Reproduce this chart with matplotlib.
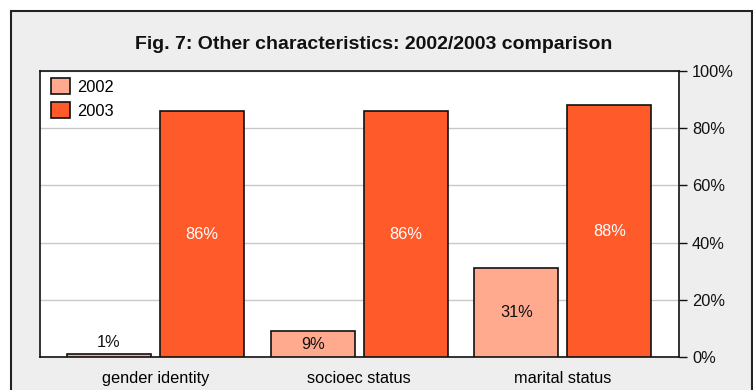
import numpy as np
import matplotlib.pyplot as plt
from matplotlib.patches import Rectangle
from matplotlib.ticker import FuncFormatter

plt.rcParams['font.family'] = ['Liberation Sans', 'DejaVu Sans']

categories = ['gender identity', 'socioec status', 'marital status']
years = ['2002', '2003']
pct_2002 = [1, 9, 31]
pct_2003 = [86, 86, 88]
y_ticks = [0, 20, 40, 60, 80, 100]

col_2002 = '#FFAA8F'
col_2003 = '#FF5A2A'

W, H = 753, 390
fig = plt.figure(figsize=(W / 100, H / 100), dpi=100)
fig.patch.set_facecolor('white')

# grey panel with dark frame behind everything
frame = Rectangle((11 / W, -0.05), (752 - 11) / W, 1 - 11 / H + 0.05,
                  transform=fig.transFigure, facecolor='#EEEEEE',
                  edgecolor='#222222', linewidth=1.5, zorder=-5)
fig.patches.append(frame)

ax = fig.add_axes([40 / W, 1 - 357 / H, (679 - 40) / W, (357 - 71) / H])
ax.set_facecolor('white')

x = np.arange(len(categories))
bw = 0.412
off = 0.228
b1 = ax.bar(x - off, pct_2002, bw, color=col_2002, edgecolor='#111111',
            linewidth=1.2, zorder=3, label=years[0])
b2 = ax.bar(x + off, pct_2003, bw, color=col_2003, edgecolor='#111111',
            linewidth=1.2, zorder=3, label=years[1])

fs = 11.8
for rect, v in zip(b1, pct_2002):
    cx = rect.get_x() + rect.get_width() / 2
    if v < 5:
        ax.annotate(f'{v}%', (cx, v), xytext=(0, 3), textcoords='offset points',
                    ha='center', va='bottom', fontsize=fs, color='#111111', zorder=4)
    else:
        ax.text(cx, v / 2, f'{v}%', ha='center', va='center', fontsize=fs,
                color='#111111', zorder=4)
for rect, v in zip(b2, pct_2003):
    cx = rect.get_x() + rect.get_width() / 2
    ax.text(cx, v / 2, f'{v}%', ha='center', va='center', fontsize=fs,
            color='white', zorder=4)

ax.set_xlim(-0.567, 2.570)
ax.set_ylim(0, 100)
ax.set_xticks(x)
ax.set_xticklabels(categories, fontsize=fs)
ax.tick_params(axis='x', length=0, pad=10)

ax.yaxis.tick_right()
ax.set_yticks(y_ticks)
ax.yaxis.set_major_formatter(FuncFormatter(lambda v, p: f'{int(v)}%'))
ax.tick_params(axis='y', length=5.8, width=1, pad=3.6, labelsize=fs, colors='#111111')
ax.grid(axis='y', color='#C8C8C8', linewidth=1, zorder=1)
ax.set_axisbelow(True)
for s in ax.spines.values():
    s.set_linewidth(1.2)
    s.set_color('#111111')

ax.legend(loc='upper left', bbox_to_anchor=(51 / W, 1 - 78 / H),
          bbox_transform=fig.transFigure, frameon=False, fontsize=fs,
          handlelength=1.15, handleheight=1.15, handletextpad=0.45,
          labelspacing=0.45, borderpad=0, borderaxespad=0)

fig.text(374 / W, 1 - 49 / H, 'Fig. 7: Other characteristics: 2002/2003 comparison',
         ha='center', va='baseline', fontsize=14, fontweight='bold', color='#111111')

fig.savefig('out.png', dpi=100)
